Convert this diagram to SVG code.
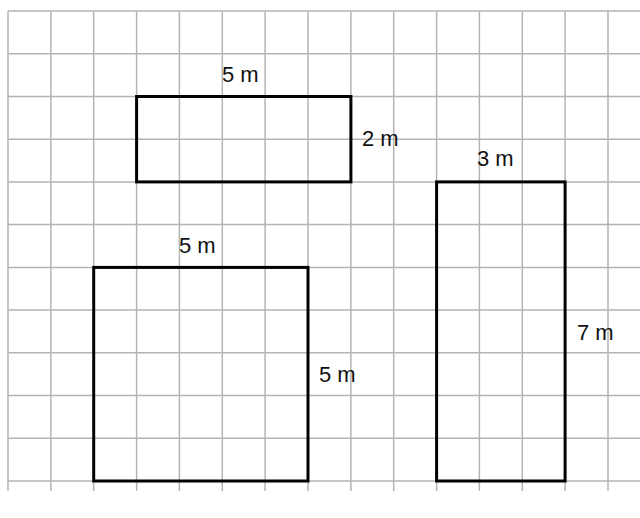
<svg xmlns="http://www.w3.org/2000/svg" width="640" height="518" viewBox="0 0 640 518">
<style>
.grid{stroke:#b4b4b4;stroke-width:1.5;fill:none}
.shape{stroke:#000;stroke-width:3;fill:none;stroke-linejoin:miter}
.lbl{font-family:"Liberation Sans",Arial,sans-serif;font-size:22px;fill:#111}
</style>
<rect width="640" height="518" fill="#fff"/>
<g id="grid" class="grid">
<path d="M8,11V491M50.9,11V491M93.7,11V491M136.6,11V491M179.4,11V491M222.3,11V491M265.1,11V491M308,11V491M350.9,11V491M393.7,11V491M436.6,11V491M479.4,11V491M522.3,11V491M565.1,11V491M608,11V491"/>
<path d="M8,11H640M8,53.7H640M8,96.5H640M8,139.2H640M8,181.9H640M8,224.6H640M8,267.4H640M8,310.1H640M8,352.8H640M8,395.5H640M8,438.3H640M8,481H640"/>
</g>
<g id="rect-top">
<rect class="shape" x="136.6" y="96.5" width="214.3" height="85.4"/>
<text class="lbl" x="222" y="82">5 m</text>
<text class="lbl" x="362" y="146">2 m</text>
</g>
<g id="square">
<rect class="shape" x="93.7" y="267.4" width="214.3" height="213.6"/>
<text class="lbl" x="179" y="253">5 m</text>
<text class="lbl" x="319" y="382">5 m</text>
</g>
<g id="rect-tall">
<rect class="shape" x="436.6" y="181.9" width="128.5" height="299.1"/>
<text class="lbl" x="477" y="166">3 m</text>
<text class="lbl" x="577" y="340">7 m</text>
</g>
<g id="connectors"/>
</svg>
